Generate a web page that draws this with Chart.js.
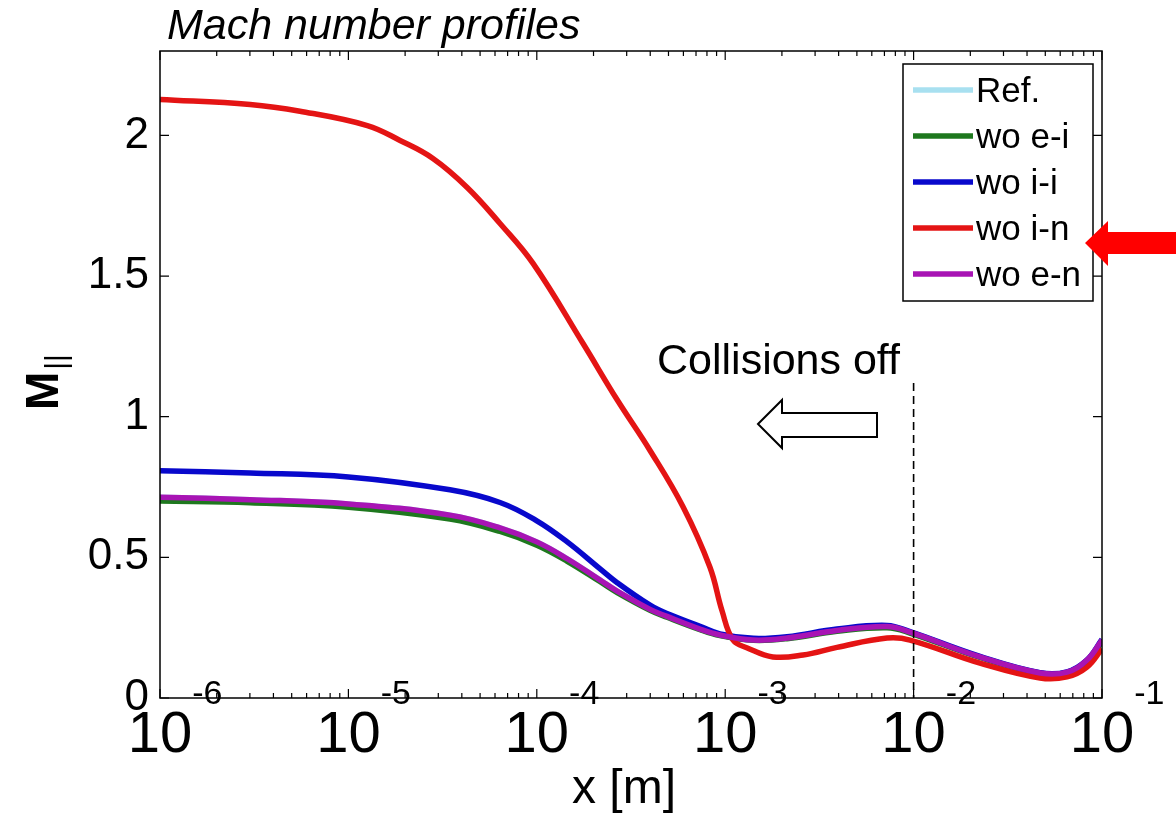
<!DOCTYPE html>
<html>
<head>
<meta charset="utf-8">
<title>Mach number profiles</title>
<script src="https://cdn.jsdelivr.net/npm/chart.js@4.4.1/dist/chart.umd.min.js"></script>
<style>
    html, body { margin: 0; padding: 0; background: #fff; }
    #wrap { width: 1176px; height: 816px; position: relative; }
</style>
</head>
<body>
<div id="wrap"><canvas id="machChart"></canvas></div>
<script>
// x positions [m]
const xCommon = [1e-6, 3.01e-6, 1e-5, 3.46e-5, 6.38e-5, 1e-4, 1.45e-4, 2.16e-4, 2.67e-4, 3.99e-4,
    4.91e-4, 7.35e-4, 9.38e-4, 1.41e-3, 2.13e-3, 3.92e-3, 7.23e-3, 9.57e-3, 2.25e-2, 4.69e-2,
    6.52e-2, 8.32e-2, 1e-1];
const xRed = [1e-6, 3.01e-6, 5.53e-6, 1.26e-5, 1.88e-5, 2.81e-5, 4.27e-5, 6.38e-5, 9.55e-5, 1.76e-4,
    2.67e-4, 3.99e-4, 5.97e-4, 8.30e-4, 9.62e-4, 1.10e-3, 1.31e-3, 1.79e-3, 2.59e-3, 3.92e-3,
    7.23e-3, 9.57e-3, 2.25e-2, 4.69e-2, 6.52e-2, 8.32e-2, 1e-1];

// M_|| values
const woEN = [0.714, 0.705, 0.69, 0.65, 0.605, 0.555, 0.495, 0.42, 0.38, 0.315,
    0.29, 0.245, 0.224, 0.206, 0.213, 0.24, 0.254, 0.234, 0.146, 0.089,
    0.092, 0.135, 0.206];
const woEI = [0.70, 0.694, 0.678, 0.636, 0.592, 0.543, 0.486, 0.414, 0.375, 0.312,
    0.287, 0.243, 0.222, 0.205, 0.211, 0.237, 0.25, 0.231, 0.144, 0.088,
    0.09, 0.132, 0.20];
const woII = [0.808, 0.80, 0.786, 0.74, 0.695, 0.63, 0.555, 0.46, 0.41, 0.33,
    0.30, 0.255, 0.228, 0.212, 0.218, 0.245, 0.258, 0.236, 0.148, 0.09,
    0.093, 0.135, 0.208];
const woIN = [2.128, 2.11, 2.086, 2.035, 1.982, 1.918, 1.815, 1.687, 1.545, 1.26,
    1.06, 0.88, 0.68, 0.465, 0.31, 0.206, 0.178, 0.146, 0.153, 0.18,
    0.213, 0.206, 0.124, 0.071, 0.075, 0.11, 0.175];
// Ref. is hidden under the other curves, it follows wo e-n
const refVals = woEN;

const seriesLabels = ['Ref.', 'wo e-i', 'wo i-i', 'wo i-n', 'wo e-n'];
const yTicks = [0, 0.5, 1, 1.5, 2];
const xDecades = [-6, -5, -4, -3, -2, -1];

const FONT = "'Liberation Sans', Arial, sans-serif";

function toPoints(xs, ys) {
    return xs.map((x, i) => ({ x: x, y: ys[i] }));
}

// axes box, inward ticks, labels, legend and annotations like matlab
const matlabLook = {
    id: 'matlabLook',
    afterDatasetsDraw(chart) {
        const ctx = chart.ctx;
        const a = chart.chartArea;
        const xs = chart.scales.x;
        const ys = chart.scales.y;
        ctx.save();

        // dashed line at 1e-2
        const xd = xs.getPixelForValue(1e-2);
        ctx.strokeStyle = '#000';
        ctx.lineWidth = 1.6;
        ctx.setLineDash([8, 5]);
        ctx.beginPath();
        ctx.moveTo(xd, 383);
        ctx.lineTo(xd, a.bottom);
        ctx.stroke();
        ctx.setLineDash([]);

        // box
        ctx.lineWidth = 1.5;
        ctx.strokeRect(a.left, a.top, a.right - a.left, a.bottom - a.top);

        // x ticks (major + minor), bottom and top
        ctx.lineWidth = 1.2;
        ctx.beginPath();
        xDecades.forEach(p => {
            const px = xs.getPixelForValue(Math.pow(10, p));
            ctx.moveTo(px, a.bottom); ctx.lineTo(px, a.bottom - 9);
            ctx.moveTo(px, a.top); ctx.lineTo(px, a.top + 9);
            if (p < -1) {
                for (let k = 2; k <= 9; k++) {
                    const mx = xs.getPixelForValue(k * Math.pow(10, p));
                    ctx.moveTo(mx, a.bottom); ctx.lineTo(mx, a.bottom - 5);
                    ctx.moveTo(mx, a.top); ctx.lineTo(mx, a.top + 5);
                }
            }
        });
        // y ticks left and right
        yTicks.forEach(v => {
            const py = ys.getPixelForValue(v);
            ctx.moveTo(a.left, py); ctx.lineTo(a.left + 9, py);
            ctx.moveTo(a.right, py); ctx.lineTo(a.right - 9, py);
        });
        ctx.stroke();

        // x tick labels 10^p
        ctx.fillStyle = '#000';
        ctx.textBaseline = 'alphabetic';
        xDecades.forEach(p => {
            const px = xs.getPixelForValue(Math.pow(10, p));
            ctx.font = '58px ' + FONT;
            const w = ctx.measureText('10').width;
            ctx.textAlign = 'left';
            ctx.fillText('10', px - w / 2, 752);
            ctx.font = '34px ' + FONT;
            ctx.fillText('-' + Math.abs(p), px + w / 2, 704);
        });

        // axis titles
        ctx.font = '48px ' + FONT;
        ctx.textAlign = 'center';
        ctx.fillText('x [m]', 624, 803);

        ctx.save();
        ctx.translate(58, 410);
        ctx.rotate(-Math.PI / 2);
        ctx.font = 'bold 46px ' + FONT;
        ctx.textAlign = 'left';
        ctx.fillText('M', 0, 0);
        const mw = ctx.measureText('M').width;
        ctx.font = '30px ' + FONT;
        ctx.fillText('||', mw + 2, 8);
        ctx.restore();

        // title
        ctx.font = 'italic 43px ' + FONT;
        ctx.textAlign = 'left';
        ctx.fillText('Mach number profiles', 167, 39);

        // annotation
        ctx.font = '43px ' + FONT;
        ctx.fillText('Collisions off', 657, 374);
        ctx.beginPath();
        ctx.moveTo(758, 424);
        ctx.lineTo(782, 400);
        ctx.lineTo(782, 413);
        ctx.lineTo(877, 413);
        ctx.lineTo(877, 437);
        ctx.lineTo(782, 437);
        ctx.lineTo(782, 448);
        ctx.closePath();
        ctx.fillStyle = '#fff';
        ctx.fill();
        ctx.strokeStyle = '#000';
        ctx.lineWidth = 2;
        ctx.stroke();

        // legend
        const lx = 903, ly = 64, lw = 190, lh = 237;
        ctx.fillStyle = '#fff';
        ctx.fillRect(lx, ly, lw, lh);
        ctx.lineWidth = 1.5;
        ctx.strokeRect(lx, ly, lw, lh);
        ctx.font = '35px ' + FONT;
        ctx.textBaseline = 'middle';
        chart.data.datasets.forEach((ds, i) => {
            const yy = 90 + i * 46;
            ctx.strokeStyle = ds.borderColor;
            ctx.lineWidth = 5.5;
            ctx.beginPath();
            ctx.moveTo(913, yy);
            ctx.lineTo(973, yy);
            ctx.stroke();
            ctx.fillStyle = '#000';
            ctx.fillText(ds.label, 976, yy + 2);
        });

        // red pointer arrow
        ctx.fillStyle = '#ff0000';
        ctx.beginPath();
        ctx.moveTo(1085, 243);
        ctx.lineTo(1108, 221);
        ctx.lineTo(1108, 232);
        ctx.lineTo(1176, 232);
        ctx.lineTo(1176, 254);
        ctx.lineTo(1108, 254);
        ctx.lineTo(1108, 266);
        ctx.closePath();
        ctx.fill();

        ctx.restore();
    }
};

function lineSet(label, xs, ys, color, order) {
    return {
        label: label,
        data: toPoints(xs, ys),
        borderColor: color,
        backgroundColor: color,
        borderWidth: 5.5,
        pointRadius: 0,
        tension: 0.4,
        order: order
    };
}

new Chart(document.getElementById('machChart'), {
    type: 'line',
    data: {
        datasets: [
            lineSet(seriesLabels[0], xCommon, refVals, '#a8e0f0', 5),
            lineSet(seriesLabels[1], xCommon, woEI, '#1e781e', 4),
            lineSet(seriesLabels[2], xCommon, woII, '#0808cc', 3),
            lineSet(seriesLabels[3], xRed, woIN, '#e41414', 2),
            lineSet(seriesLabels[4], xCommon, woEN, '#a814b4', 1)
        ]
    },
    options: {
        responsive: true,
        maintainAspectRatio: false,
        animation: false,
        layout: { padding: { top: 51, right: 74, left: 0, bottom: 0 } },
        plugins: {
            legend: { display: false },
            tooltip: { enabled: false }
        },
        scales: {
            x: {
                type: 'logarithmic',
                min: 1e-6,
                max: 1e-1,
                grid: { display: false },
                border: { display: false },
                ticks: { display: false },
                afterFit: scale => { scale.height = 118; }
            },
            y: {
                min: 0,
                max: 2.3,
                grid: { display: false },
                border: { display: false },
                afterBuildTicks: scale => { scale.ticks = yTicks.map(v => ({ value: v })); },
                ticks: {
                    padding: 3,
                    color: '#000',
                    font: { family: FONT, size: 44 },
                    callback: v => String(v)
                },
                afterFit: scale => { scale.width = 160; }
            }
        }
    },
    plugins: [matlabLook]
});
</script>
</body>
</html>
